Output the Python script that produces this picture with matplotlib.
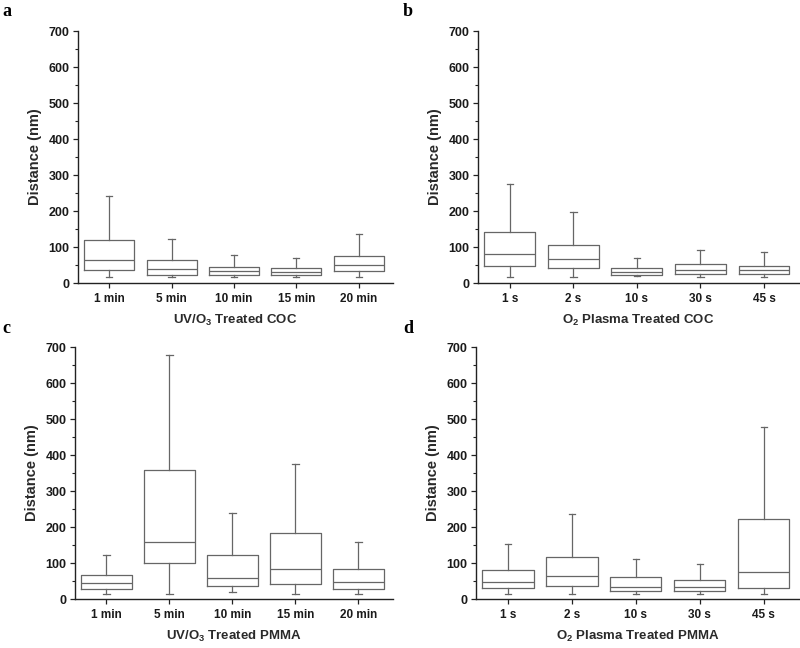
import matplotlib
matplotlib.use("Agg")
import matplotlib.pyplot as plt
from matplotlib.ticker import MultipleLocator

plt.rcParams['font.family'] = ['Liberation Sans', 'DejaVu Sans']

# ---------------- data (nm) ----------------
uv_cats = ["1 min", "5 min", "10 min", "15 min", "20 min"]
o2_cats = ["1 s", "2 s", "10 s", "30 s", "45 s"]

# panel a: UV/O3 treated COC
a_low = [17, 17, 17, 17, 17]
a_q1 = [36, 23, 21, 21, 34]
a_med = [64, 40, 34, 31, 50]
a_q3 = [119, 64, 45, 42, 75]
a_high = [241, 121, 78, 69, 137]

# panel b: O2 plasma treated COC
b_low = [17, 17, 19, 17, 17]
b_q1 = [47, 42, 21, 25, 24]
b_med = [80, 68, 31, 37, 35]
b_q3 = [141, 105, 41, 52, 48]
b_high = [276, 198, 70, 91, 85]

# panel c: UV/O3 treated PMMA
c_low = [15, 15, 19, 15, 15]
c_q1 = [29, 101, 36, 41, 27]
c_med = [45, 157, 57, 83, 47]
c_q3 = [66, 358, 121, 182, 84]
c_high = [122, 677, 238, 375, 157]

# panel d: O2 plasma treated PMMA
d_low = [15, 15, 15, 15, 15]
d_q1 = [30, 36, 23, 21, 31]
d_med = [47, 64, 34, 32, 74]
d_q3 = [81, 116, 60, 53, 222]
d_high = [152, 235, 111, 98, 477]

panels = [
    ("a", uv_cats, a_low, a_q1, a_med, a_q3, a_high, "UV/O$_\\mathbf{3}$ Treated COC"),
    ("b", o2_cats, b_low, b_q1, b_med, b_q3, b_high, "O$_\\mathbf{2}$ Plasma Treated COC"),
    ("c", uv_cats, c_low, c_q1, c_med, c_q3, c_high, "UV/O$_\\mathbf{3}$ Treated PMMA"),
    ("d", o2_cats, d_low, d_q1, d_med, d_q3, d_high, "O$_\\mathbf{2}$ Plasma Treated PMMA"),
]

plt.rcParams['mathtext.fontset'] = 'custom'
plt.rcParams['mathtext.rm'] = 'Liberation Sans'
plt.rcParams['mathtext.bf'] = 'Liberation Sans:bold'

W, H = 800, 648
fig = plt.figure(figsize=(8, 6.48), dpi=100)

# axes rectangles in pixels: left, right, top, bottom
rects = [(78, 393, 31, 283), (478, 799, 31, 283), (75, 393, 347, 599), (476, 799, 347, 599)]
letter_pos = [(2, 16), (403, 16), (2, 333), (403, 333)]

box_color = "#666666"
axis_color = "#222222"
text_color = "#1a1a1a"

for (letter, cats, low, q1, med, q3, high, xlabel), (l, r, t, b), (lx, ly) in zip(panels, rects, letter_pos):
    ax = fig.add_axes([l / W, 1 - b / H, (r - l) / W, (b - t) / H])
    stats = []
    for i in range(len(cats)):
        stats.append(dict(whislo=low[i], q1=q1[i], med=med[i], q3=q3[i], whishi=high[i], fliers=[], label=cats[i]))
    lp = dict(color=box_color, linewidth=0.9)
    ax.bxp(stats, positions=range(1, len(cats) + 1), widths=0.8, capwidths=0.1,
           showfliers=False, boxprops=lp, whiskerprops=lp, capprops=lp, medianprops=lp)
    ax.set_xlim(0.5, 5.55)
    ax.set_ylim(0, 700)
    ax.yaxis.set_major_locator(MultipleLocator(100))
    ax.yaxis.set_minor_locator(MultipleLocator(50))
    for s in ("top", "right"):
        ax.spines[s].set_visible(False)
    for s in ("left", "bottom"):
        ax.spines[s].set_color(axis_color)
        ax.spines[s].set_linewidth(1.0)
    ax.tick_params(axis="both", which="major", direction="out", length=3.5, width=0.9,
                   color=axis_color, labelsize=9, pad=2.5)
    ax.tick_params(axis="y", which="minor", direction="out", length=2, width=0.8, color=axis_color)
    ax.tick_params(axis="x", which="major", pad=3.5, labelsize=8.5)
    for lab in ax.get_xticklabels() + ax.get_yticklabels():
        lab.set_fontweight("bold")
        lab.set_color(text_color)
    ax.set_ylabel("Distance (nm)", fontsize=10.5, fontweight="bold", color="#2a2a2a", labelpad=5)
    ax.set_xlabel(xlabel, fontsize=9.5, fontweight="bold", color="#2a2a2a", labelpad=6)
    fig.text(lx / W, 1 - ly / H, letter, fontsize=13, fontweight="bold",
             family=["Liberation Serif", "DejaVu Serif"], ha="left", va="baseline")

fig.savefig("out.png", dpi=100, facecolor="white")
